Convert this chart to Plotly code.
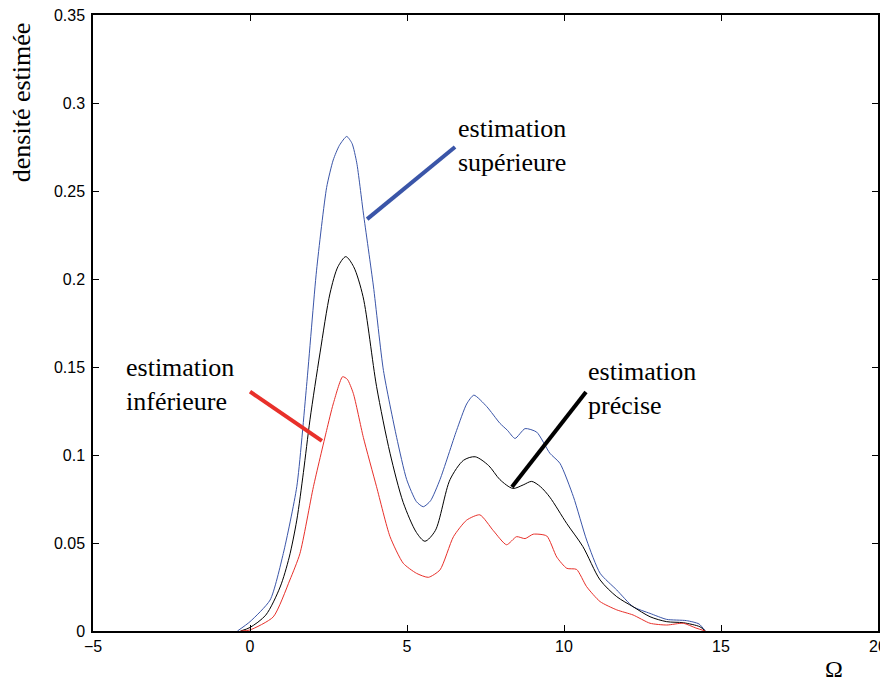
import plotly.graph_objects as go

# estimation précise (black)
x_mid = [-0.3, 0.0, 0.5, 0.96, 1.25, 1.49, 1.7, 1.91, 2.23, 2.55, 2.8, 3.05, 3.3, 3.6, 4.03, 4.46, 4.88, 5.3, 5.57, 5.9, 6.37, 6.8, 7.17, 7.6, 7.96, 8.37, 8.7, 8.97, 9.25, 9.55, 10.09, 10.6, 11.15, 11.68, 12.2, 12.74, 13.27, 13.8, 14.33, 14.5]
y_mid = [0.0, 0.002, 0.009, 0.025, 0.042, 0.063, 0.09, 0.12, 0.158, 0.192, 0.207, 0.2127, 0.207, 0.19, 0.139, 0.101, 0.073, 0.056, 0.051, 0.057, 0.086, 0.097, 0.099, 0.094, 0.086, 0.081, 0.083, 0.085, 0.082, 0.076, 0.061, 0.048, 0.029, 0.0195, 0.0138, 0.0081, 0.0053, 0.0047, 0.0024, 0.0]

# estimation supérieure (blue)
x_up = [-0.4, 0.0, 0.64, 1.06, 1.49, 1.8, 2.12, 2.44, 2.65, 2.85, 3.08, 3.25, 3.4, 3.61, 3.93, 4.25, 4.67, 4.99, 5.3, 5.52, 5.75, 6.05, 6.58, 6.9, 7.13, 7.54, 7.96, 8.2, 8.44, 8.76, 9.13, 9.55, 9.87, 10.3, 10.72, 11.15, 11.68, 12.2, 12.74, 13.27, 13.9, 14.3, 14.5]
y_up = [0.0, 0.0053, 0.0176, 0.044, 0.082, 0.139, 0.205, 0.252, 0.2676, 0.276, 0.281, 0.277, 0.266, 0.2375, 0.196, 0.148, 0.110, 0.086, 0.0735, 0.0706, 0.074, 0.086, 0.114, 0.129, 0.134, 0.1275, 0.118, 0.114, 0.1094, 0.115, 0.113, 0.101, 0.0953, 0.0763, 0.0517, 0.0328, 0.0233, 0.0138, 0.010, 0.0066, 0.0059, 0.004, 0.0]

# estimation inférieure (red)
x_low = [-0.3, 0.0, 0.74, 1.27, 1.59, 2.02, 2.44, 2.65, 2.95, 3.1, 3.29, 3.61, 4.03, 4.46, 4.88, 5.3, 5.68, 6.05, 6.48, 6.9, 7.32, 7.75, 8.17, 8.49, 8.76, 9.02, 9.45, 9.77, 10.09, 10.4, 10.72, 11.15, 11.68, 12.2, 12.74, 13.27, 13.8, 14.2, 14.5]
y_low = [0.0, 0.0006, 0.008, 0.029, 0.044, 0.082, 0.114, 0.129, 0.1445, 0.143, 0.135, 0.110, 0.082, 0.0536, 0.0385, 0.0328, 0.0305, 0.0347, 0.0536, 0.063, 0.066, 0.057, 0.049, 0.0536, 0.0525, 0.055, 0.054, 0.042, 0.0356, 0.035, 0.0252, 0.0167, 0.012, 0.0091, 0.0044, 0.0034, 0.0044, 0.0017, 0.0]

x_ticks = [-5, 0, 5, 10, 15, 20]
y_ticks = [0, 0.05, 0.1, 0.15, 0.2, 0.25, 0.3, 0.35]
y_tick_labels = ["0", "0.05", "0.1", "0.15", "0.2", "0.25", "0.3", "0.35"]
x_tick_labels = ["\u22125", "0", "5", "10", "15", "20"]

BLUE = "#3a55a8"
RED = "#e8302a"
BLACK = "#000000"
SERIF = "Liberation Serif, Times New Roman, serif"
SANS = "Liberation Sans, Arial, sans-serif"

fig = go.Figure()
fig.add_trace(go.Scatter(x=x_up, y=y_up, mode="lines", line=dict(color=BLUE, width=1, shape="spline", smoothing=0.6), showlegend=False))
fig.add_trace(go.Scatter(x=x_mid, y=y_mid, mode="lines", line=dict(color=BLACK, width=1, shape="spline", smoothing=0.8), showlegend=False))
fig.add_trace(go.Scatter(x=x_low, y=y_low, mode="lines", line=dict(color=RED, width=1, shape="spline", smoothing=0.6), showlegend=False))

# pointer lines
fig.add_shape(type="line", x0=3.73, y0=0.234, x1=6.53, y1=0.275, line=dict(color=BLUE, width=4))
fig.add_shape(type="line", x0=0.0, y0=0.136, x1=2.29, y1=0.108, line=dict(color=RED, width=4))
fig.add_shape(type="line", x0=8.34, y0=0.0818, x1=10.7, y1=0.1358, line=dict(color=BLACK, width=4))

labels = [
    (6.55, 0.276, "estimation<br>supérieure"),
    (-4.02, 0.140, "estimation<br>inférieure"),
    (10.7, 0.138, "estimation<br>précise"),
]
for lx, ly, txt in labels:
    fig.add_annotation(x=lx, y=ly, text=txt, showarrow=False, xanchor="left", yanchor="middle",
                       align="left", font=dict(family=SERIF, size=26, color="black"))

fig.add_annotation(xref="paper", yref="paper", x=-0.090, y=0.859, text="densité estimée", textangle=-90,
                   showarrow=False, xanchor="center", yanchor="middle", font=dict(family=SERIF, size=26, color="black"))
fig.add_annotation(xref="paper", yref="paper", x=0.944, y=-0.061, text="\u03a9", showarrow=False,
                   xanchor="center", yanchor="middle", font=dict(family=SERIF, size=24, color="black"))

# page body has an 8px margin: size the figure so the plot box lands where the reference has it
fig.update_layout(
    width=880, height=673,
    margin=dict(l=85, r=10, t=7, b=50, autoexpand=False),
    paper_bgcolor="white", plot_bgcolor="white",
    font=dict(family=SANS, size=16, color="black"),
)
fig.update_xaxes(range=[-5, 20], tickvals=x_ticks, ticktext=x_tick_labels, ticks="inside", ticklen=6,
                 tickcolor="black", showline=True, linecolor="black", linewidth=1.5, mirror="allticks",
                 showgrid=False, zeroline=False, tickfont=dict(family=SANS, size=16), automargin=False,
                 ticklabeloverflow="allow")
fig.update_yaxes(range=[0, 0.35], tickvals=y_ticks, ticktext=y_tick_labels, ticks="inside", ticklen=6,
                 tickcolor="black", showline=True, linecolor="black", linewidth=1.5, mirror="allticks",
                 showgrid=False, zeroline=False, tickfont=dict(family=SANS, size=16), automargin=False,
                 ticklabelstandoff=3, ticklabeloverflow="allow")

fig.write_html("out.html")
